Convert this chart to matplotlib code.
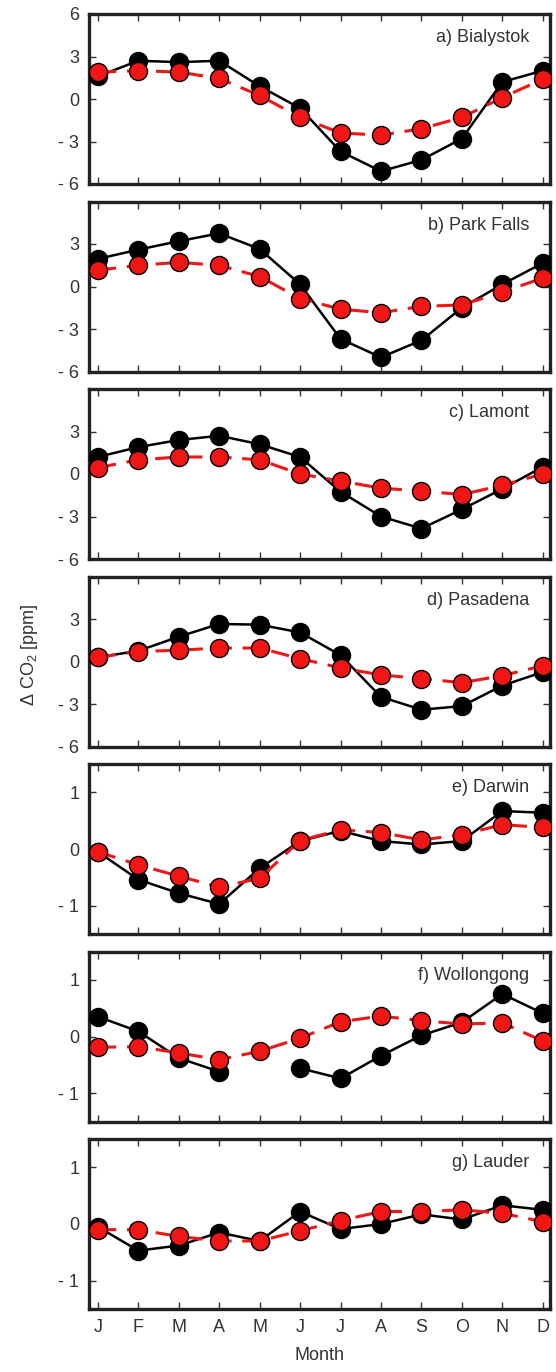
import numpy as np
import matplotlib
matplotlib.use("Agg")
import matplotlib.pyplot as plt

plt.rcParams.update({"font.family": ["Liberation Sans", "DejaVu Sans"],
                     "mathtext.fontset": "custom", "mathtext.rm": "Liberation Sans",
                     "mathtext.it": "Liberation Sans"})

months = ["J", "F", "M", "A", "M", "J", "J", "A", "S", "O", "N", "D"]
x = np.arange(1, 13)
nan = np.nan

stations = ["a) Bialystok", "b) Park Falls", "c) Lamont", "d) Pasadena",
            "e) Darwin", "f) Wollongong", "g) Lauder"]

# black solid series
obs_a = [1.6, 2.7, 2.6, 2.7, 0.9, -0.65, -3.7, -5.1, -4.3, -2.8, 1.2, 2.0]
obs_b = [1.95, 2.6, 3.2, 3.75, 2.65, 0.15, -3.7, -5.0, -3.8, -1.5, 0.15, 1.65]
obs_c = [1.2, 1.9, 2.4, 2.7, 2.1, 1.2, -1.25, -3.0, -3.85, -2.5, -1.05, 0.5]
obs_d = [0.3, 0.75, 1.75, 2.65, 2.6, 2.05, 0.45, -2.5, -3.4, -3.15, -1.7, -0.75]
obs_e = [-0.05, -0.54, -0.78, -0.97, -0.34, 0.14, 0.32, 0.14, 0.08, 0.14, 0.67, 0.64]
obs_f = [0.35, 0.09, -0.38, -0.62, nan, -0.56, -0.74, -0.34, 0.02, 0.25, 0.75, 0.41]
obs_g = [-0.05, -0.47, -0.38, -0.15, -0.3, 0.22, -0.09, 0.0, 0.17, 0.08, 0.33, 0.25]

# red dashed series
mod_a = [1.9, 2.0, 1.9, 1.45, 0.25, -1.3, -2.4, -2.55, -2.1, -1.3, 0.1, 1.4]
mod_b = [1.15, 1.5, 1.7, 1.5, 0.7, -0.85, -1.6, -1.85, -1.4, -1.3, -0.4, 0.6]
mod_c = [0.45, 1.0, 1.2, 1.2, 1.0, 0.0, -0.5, -1.0, -1.2, -1.45, -0.8, 0.0]
mod_d = [0.3, 0.7, 0.8, 0.95, 0.95, 0.2, -0.45, -0.95, -1.2, -1.5, -1.0, -0.3]
mod_e = [-0.05, -0.28, -0.48, -0.67, -0.52, 0.15, 0.34, 0.29, 0.16, 0.25, 0.43, 0.38]
mod_f = [-0.19, -0.18, -0.29, -0.41, -0.26, -0.03, 0.26, 0.36, 0.28, 0.22, 0.24, -0.08]
mod_g = [-0.1, -0.1, -0.22, -0.3, -0.3, -0.12, 0.06, 0.22, 0.22, 0.25, 0.19, 0.04]

obs = [obs_a, obs_b, obs_c, obs_d, obs_e, obs_f, obs_g]
mod = [mod_a, mod_b, mod_c, mod_d, mod_e, mod_f, mod_g]

GRAY = "#333333"
RED = "#f01616"
W, H = 556, 1372
fig = plt.figure(figsize=(W / 100, H / 100), dpi=100)

left, right = 89 / W, 550 / W
top0, pitch, ph = 14, 187.5, 170

for i in range(7):
    y0 = 1 - (top0 + i * pitch + ph) / H
    ax = fig.add_axes([left, y0, right - left, ph / H])
    ax.plot(x, obs[i], "-o", color="black", lw=1.8, ms=13, mec="black", zorder=3)
    ax.plot(x, mod[i], "--o", color=RED, lw=2.2, dashes=(6, 3.5), ms=13,
            mfc=RED, mec="black", mew=1.0, zorder=4)
    ax.set_xlim(0.78, 12.18)
    if i < 4:
        ax.set_ylim(-6, 6)
        ticks = [-6, -3, 0, 3, 6]
        labs = ["- 6", "- 3", "0", "3", "6" if i == 0 else ""]
    else:
        ax.set_ylim(-1.5, 1.5)
        ticks = [-1, 0, 1]
        labs = ["- 1", "0", "1"]
    ax.set_yticks(ticks)
    ax.set_yticklabels(labs)
    ax.set_xticks(x)
    if i == 6:
        ax.set_xticklabels(months)
    else:
        ax.set_xticklabels([])
    ax.tick_params(direction="in", length=5, width=1.0, color=GRAY,
                   top=True, right=True, labelsize=13, labelcolor=GRAY, pad=7)
    for s in ax.spines.values():
        s.set_linewidth(2.4)
        s.set_color("#222222")
    ax.text(0.955, 0.86, stations[i], transform=ax.transAxes, ha="right",
            va="center", fontsize=13, color=GRAY)

fig.text(30 / W, 1 - 655 / H, r"$\Delta$ CO$_2$ [ppm]", rotation=90,
         ha="center", va="center", fontsize=13, color=GRAY)
fig.text((left + right) / 2, 1 - 1356 / H, "Month", ha="center", va="center",
         fontsize=13, color=GRAY)

fig.savefig("out.png", dpi=100)
